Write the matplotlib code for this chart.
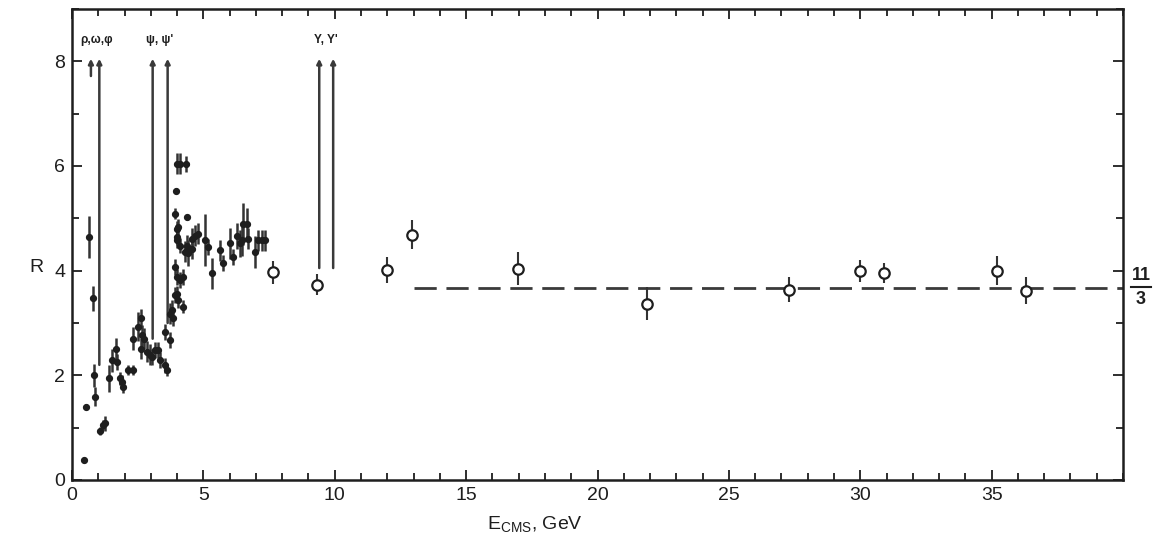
import matplotlib
matplotlib.use("Agg")
import matplotlib.pyplot as plt
from matplotlib.ticker import MultipleLocator
import numpy as np

plt.rcParams['font.family'] = ['Liberation Sans', 'DejaVu Sans']

# ---- low-energy data (filled points) ----
low_E = [0.46, 0.53, 0.66, 0.81, 0.84, 0.88, 1.07, 1.18, 1.26, 1.42, 1.51, 1.67, 1.72,
         1.83, 1.89, 1.95, 2.14, 2.33, 2.33, 2.52, 2.61, 2.65, 2.74, 2.61, 2.84, 2.97,
         3.03, 3.16, 3.28, 3.35, 3.54, 3.60, 3.54, 3.73, 3.79, 3.85, 3.92, 3.98, 4.04,
         4.24, 3.73, 3.96, 3.92, 3.98, 3.98, 4.11, 4.30, 3.92, 3.98, 4.11, 4.36, 3.98,
         4.11, 4.34, 4.05, 4.01, 4.36, 4.55, 4.68, 4.81, 4.43, 4.55, 5.06, 5.19, 5.32,
         4.24, 5.63, 5.76, 6.01, 6.14, 6.27, 6.39, 6.52, 6.65, 6.46, 6.71, 6.96, 7.09,
         7.22, 7.34]
low_R = [0.39, 1.40, 4.64, 3.47, 2.00, 1.59, 0.94, 1.05, 1.08, 1.94, 2.29, 2.51, 2.26,
         1.94, 1.88, 1.78, 2.10, 2.10, 2.70, 2.93, 3.09, 2.77, 2.70, 2.51, 2.45, 2.39,
         2.35, 2.48, 2.48, 2.29, 2.19, 2.10, 2.83, 3.18, 3.24, 3.09, 3.53, 3.56, 3.43,
         3.31, 2.67, 5.53, 5.09, 4.80, 4.64, 4.48, 4.36, 4.07, 3.88, 3.82, 5.02, 6.04,
         6.04, 6.04, 4.83, 4.58, 4.48, 4.61, 4.67, 4.71, 4.33, 4.42, 4.58, 4.45, 3.95,
         3.88, 4.39, 4.14, 4.52, 4.26, 4.67, 4.52, 4.90, 4.90, 4.58, 4.61, 4.36, 4.58,
         4.58, 4.58]
low_err = [0.0, 0.05, 0.40, 0.24, 0.22, 0.18, 0.08, 0.10, 0.15, 0.25, 0.22, 0.20, 0.15,
           0.12, 0.12, 0.12, 0.10, 0.10, 0.22, 0.28, 0.18, 0.20, 0.20, 0.20, 0.20, 0.20,
           0.15, 0.15, 0.15, 0.15, 0.15, 0.12, 0.15, 0.20, 0.20, 0.15, 0.15, 0.15, 0.15,
           0.12, 0.15, 0.05, 0.10, 0.15, 0.15, 0.15, 0.20, 0.15, 0.15, 0.15, 0.05, 0.20,
           0.20, 0.15, 0.15, 0.15, 0.20, 0.20, 0.20, 0.20, 0.25, 0.20, 0.50, 0.15, 0.30,
           0.15, 0.20, 0.15, 0.30, 0.15, 0.25, 0.25, 0.40, 0.30, 0.30, 0.20, 0.30, 0.20,
           0.20, 0.20]
low_xerr = [0.0] * len(low_E)
low_xerr[16] = 0.10
low_xerr[17] = 0.08
low_xerr[53] = 0.12

# ---- high-energy data (open circles) ----
high_E = [7.66, 9.33, 11.98, 12.93, 16.97, 21.9, 27.3, 30.0, 30.9, 35.2, 36.3]
high_R = [3.97, 3.73, 4.01, 4.69, 4.04, 3.37, 3.64, 4.00, 3.96, 4.00, 3.62]
high_err = [0.22, 0.20, 0.25, 0.27, 0.32, 0.32, 0.23, 0.21, 0.19, 0.28, 0.25]

# ---- resonances ----
res_E = [0.72, 1.04, 3.07, 3.64, 9.41, 9.94]
res_bottom = [7.72, 2.20, 2.70, 3.00, 4.05, 4.05]
res_top = 8.05
res_labels = ['ρ,ω,φ', 'ψ, ψ\'', 'Υ, Υ\'']
res_label_E = [0.92, 3.35, 9.68]

# ---- QPM prediction ----
qpm_value = 11 / 3
qpm_start = 13.0

ink = '#1e1e1e'

fig = plt.figure(figsize=(11.6, 5.52), dpi=100)
ax = fig.add_axes([72 / 1160, 1 - 480 / 552, (1123 - 72) / 1160, (480 - 9) / 552])
ax.set_xlim(0, 40)
ax.set_ylim(0, 9)

# resonance lines with arrows
for e, b in zip(res_E, res_bottom):
    ax.annotate('', xy=(e, res_top), xytext=(e, b),
                arrowprops=dict(arrowstyle='-|>', lw=1.8, color='#3a3a3a',
                                mutation_scale=7, shrinkA=0, shrinkB=0))
for lab, e in zip(res_labels, res_label_E):
    ax.text(e, 8.3, lab, ha='center', va='bottom', fontsize=8.5,
            fontweight='bold', color=ink)

# dashed 11/3 line
ax.plot([qpm_start, 40], [qpm_value, qpm_value], color='#3a3a3a', lw=2.0,
        dashes=(8, 3.5), zorder=1)

# low energy points
ax.errorbar(low_E, low_R, yerr=low_err, xerr=low_xerr, fmt='o', ms=4.2,
            color=ink, mfc=ink, mec=ink, ecolor='#333333', elinewidth=1.8,
            capsize=0, zorder=3)

# high energy points
ax.errorbar(high_E, high_R, yerr=high_err, fmt='o', ms=7.5, color=ink,
            mfc='white', mec=ink, mew=1.6, ecolor='#333333', elinewidth=1.5,
            capsize=0, zorder=4)

# ticks
ax.xaxis.set_major_locator(MultipleLocator(5))
ax.xaxis.set_minor_locator(MultipleLocator(1))
ax.yaxis.set_major_locator(MultipleLocator(2))
ax.yaxis.set_minor_locator(MultipleLocator(1))
ax.tick_params(which='both', direction='in', top=True, right=True,
               color=ink, width=1.3)
ax.tick_params(which='major', length=7, labelsize=14, pad=5, labelcolor=ink)
ax.tick_params(which='minor', length=5)
xt = list(range(0, 40, 5))
ax.set_xticks(xt)
ax.set_xticklabels([str(v) for v in xt])
for s in ax.spines.values():
    s.set_linewidth(1.8)
    s.set_color(ink)

fig.text(535 / 1160, 1 - 525 / 552, r'E$_\mathregular{CMS}$, GeV', ha='center',
         va='center', fontsize=14, color=ink)
fig.text(36 / 1160, 1 - 268 / 552, 'R', ha='center', va='center', fontsize=14,
         color=ink)

# 11/3 label
fig.text(1141 / 1160, 1 - 276 / 552, '11', ha='center', va='center',
         fontsize=13, fontweight='bold', color=ink)
fig.text(1141 / 1160, 1 - 299 / 552, '3', ha='center', va='center',
         fontsize=13, fontweight='bold', color=ink)
fig.add_artist(plt.Line2D([1131 / 1160, 1151 / 1160],
                          [1 - 287 / 552, 1 - 287 / 552], color=ink, lw=1.5))

fig.savefig('out.png', dpi=100)
